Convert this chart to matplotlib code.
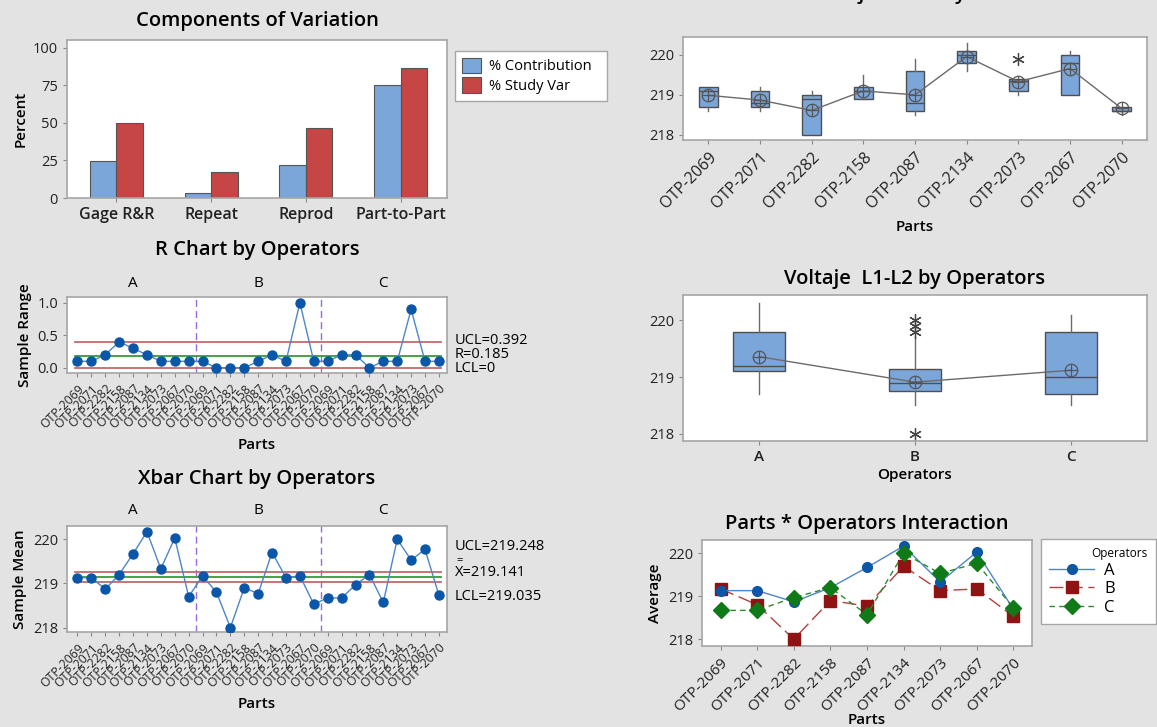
import numpy as np
import matplotlib
matplotlib.use("Agg")
import matplotlib.pyplot as plt
import matplotlib.transforms as mtransforms

plt.rcParams['font.family'] = ['Open Sans', 'DejaVu Sans']

# --- data ---
parts = ['OTP-2069', 'OTP-2071', 'OTP-2282', 'OTP-2158', 'OTP-2087',
         'OTP-2134', 'OTP-2073', 'OTP-2067', 'OTP-2070']
operators = ['A', 'B', 'C']

components = ['Gage R&R', 'Repeat', 'Reprod', 'Part-to-Part']
pct_contribution = [24.9, 3.0, 21.9, 75.1]
pct_study_var = [49.9, 17.3, 46.8, 86.7]

# sample ranges per operator (one per part)
range_a = [0.1, 0.1, 0.2, 0.4, 0.3, 0.2, 0.1, 0.1, 0.1]
range_b = [0.1, 0.0, 0.0, 0.0, 0.1, 0.2, 0.1, 1.0, 0.1]
range_c = [0.1, 0.2, 0.2, 0.0, 0.1, 0.1, 0.9, 0.1, 0.1]
r_ucl, r_bar, r_lcl = 0.392, 0.185, 0.0

# sample means per operator (one per part)
mean_a = [219.13, 219.13, 218.87, 219.20, 219.67, 220.17, 219.33, 220.03, 218.70]
mean_b = [219.17, 218.80, 218.00, 218.90, 218.77, 219.70, 219.13, 219.17, 218.53]
mean_c = [218.67, 218.67, 218.97, 219.20, 218.57, 220.00, 219.53, 219.77, 218.73]
x_ucl, x_bar, x_lcl = 219.248, 219.141, 219.035

# box summaries by part
part_q1 = [218.7, 218.7, 218.0, 218.9, 218.6, 219.8, 219.1, 219.0, 218.6]
part_med = [219.1, 218.8, 218.9, 219.1, 218.8, 220.0, 219.35, 219.8, 218.6]
part_q3 = [219.2, 219.1, 219.0, 219.2, 219.6, 220.1, 219.4, 220.0, 218.7]
part_lo = [218.6, 218.6, 218.0, 218.9, 218.5, 219.6, 219.0, 219.0, 218.5]
part_hi = [219.2, 219.2, 219.1, 219.5, 219.9, 220.3, 219.4, 220.1, 218.7]
part_mean = [218.99, 218.87, 218.61, 219.10, 219.00, 219.96, 219.33, 219.66, 218.66]
part_out = [[], [], [], [], [], [], [219.9], [], []]

# box summaries by operator
op_q1 = [219.1, 218.75, 218.7]
op_med = [219.2, 218.9, 219.0]
op_q3 = [219.8, 219.15, 219.8]
op_lo = [218.7, 218.5, 218.5]
op_hi = [220.3, 219.7, 220.1]
op_mean = [219.36, 218.91, 219.12]
op_out = [[], [218.0, 219.8, 219.9, 220.0], []]

# --- styling ---
BG = '#e3e3e3'
EDGE = '#a6a6a6'
BLUE_BAR = '#7ba6da'
RED_BAR = '#c64545'
PT_BLUE = '#0a56a8'
LN_BLUE = '#4d86c8'
CL_RED = '#c46a6a'
CL_GREEN = '#3a9a3a'
DIV = '#9a6ad8'

W, H = 1157, 727
fig = plt.figure(figsize=(W / 100, H / 100), dpi=100, facecolor=BG)


def rect(l, t, r, b):
    return [l / W, 1 - b / H, (r - l) / W, (b - t) / H]


def style(ax):
    ax.set_facecolor('white')
    for s in ax.spines.values():
        s.set_color(EDGE)
        s.set_linewidth(1.2)
    ax.tick_params(colors='#222222', labelsize=10.5, length=3, color='#888888')


TITLE = dict(fontsize=14.5, fontweight='semibold')
LABEL = dict(fontsize=11, fontweight='semibold')

# ---------- Components of Variation ----------
ax1 = fig.add_axes(rect(67, 40, 447, 198))
style(ax1)
xc = np.arange(len(components))
bw = 0.28
ax1.bar(xc - bw / 2, pct_contribution, bw, color=BLUE_BAR, edgecolor='#555555', linewidth=0.8,
        label='% Contribution')
ax1.bar(xc + bw / 2, pct_study_var, bw, color=RED_BAR, edgecolor='#555555', linewidth=0.8,
        label='% Study Var')
ax1.set_xlim(-0.52, 3.49)
ax1.set_ylim(0, 105)
ax1.set_yticks([0, 25, 50, 75, 100])
ax1.set_xticks(xc)
ax1.set_xticklabels(components, fontsize=11.5, fontweight='semibold')
ax1.set_ylabel('Percent', **LABEL)
ax1.set_title('Components of Variation', pad=10, **TITLE)
ax1.legend(loc='upper left', bbox_to_anchor=(455 / W, 1 - 102 / H, 152 / W, 51 / H),
           bbox_transform=fig.transFigure, mode='expand', borderaxespad=0,
           fancybox=False, edgecolor=EDGE, fontsize=10.5, handlelength=1.3, handleheight=1.3,
           borderpad=0.45, labelspacing=0.2, handletextpad=0.6, framealpha=1)


def control_chart(ax, series, ucl, cl, lcl, ylim, yticks):
    style(ax)
    y = np.concatenate(series)
    x = np.arange(len(y))
    ax.plot(x, y, color=LN_BLUE, lw=1.0, zorder=3)
    ax.plot(x, y, 'o', color=PT_BLUE, ms=6.5, zorder=4)
    ax.axhline(ucl, xmin=0.02, xmax=0.985, color=CL_RED, lw=1.3, zorder=2)
    ax.axhline(lcl, xmin=0.02, xmax=0.985, color=CL_RED, lw=1.3, zorder=2)
    ax.axhline(cl, xmin=0.02, xmax=0.985, color=CL_GREEN, lw=1.3, zorder=2)
    for d in (8.5, 17.5):
        ax.axvline(d, color=DIV, lw=1.0, ls=(0, (5, 3)), zorder=1)
    ax.set_xlim(-0.75, len(y) - 0.42)
    ax.set_ylim(*ylim)
    ax.set_yticks(yticks)
    ax.set_xticks(x)
    ax.set_xticklabels(parts * 3, rotation=45, ha='right', rotation_mode='anchor', fontsize=8.8)
    trans = mtransforms.blended_transform_factory(ax.transData, ax.transAxes)
    for i, op in enumerate(operators):
        ax.text(4 + 9 * i, 1.08, op, transform=trans, ha='center', va='bottom', fontsize=11)
    ax.set_xlabel('Parts', labelpad=5, **LABEL)


# ---------- R Chart ----------
ax2 = fig.add_axes(rect(67, 297, 447, 373))
control_chart(ax2, [range_a, range_b, range_c], r_ucl, r_bar, r_lcl, (-0.08, 1.09), [0.0, 0.5, 1.0])
ax2.set_yticklabels(['0.0', '0.5', '1.0'])
ax2.set_ylabel('Sample Range', **LABEL)
ax2.set_title('R Chart by Operators', pad=30, **TITLE)
fig.text(455 / W, 1 - 341 / H, 'UCL=%.3f' % r_ucl, fontsize=10.5, va='center')
fig.text(455 / W, 1 - 355 / H, 'R=%.3f' % r_bar, fontsize=10.5, va='center')
fig.text(455 / W, 1 - 368 / H, 'LCL=%g' % r_lcl, fontsize=10.5, va='center')

# ---------- Xbar Chart ----------
ax3 = fig.add_axes(rect(67, 526, 447, 632))
control_chart(ax3, [mean_a, mean_b, mean_c], x_ucl, x_bar, x_lcl, (217.9, 220.3), [218, 219, 220])
ax3.set_ylabel('Sample Mean', **LABEL)
ax3.set_title('Xbar Chart by Operators', pad=30, **TITLE)
fig.text(455 / W, 1 - 547 / H, 'UCL=%.3f' % x_ucl, fontsize=10.5, va='center')
fig.text(456 / W, 1 - 561 / H, '=', fontsize=8, va='center')
fig.text(455 / W, 1 - 573 / H, 'X=%.3f' % x_bar, fontsize=10.5, va='center')
fig.text(455 / W, 1 - 597 / H, 'LCL=%.3f' % x_lcl, fontsize=10.5, va='center')


def box_panel(ax, q1, med, q3, lo, hi, mean, out, width):
    style(ax)
    stats = []
    for i in range(len(q1)):
        stats.append(dict(q1=q1[i], med=med[i], q3=q3[i], whislo=lo[i], whishi=hi[i],
                          fliers=out[i]))
    pos = np.arange(len(q1))
    ax.bxp(stats, positions=pos, widths=width, patch_artist=True, showcaps=False,
           boxprops=dict(facecolor=BLUE_BAR, edgecolor='#4f4f4f', linewidth=1.0),
           medianprops=dict(color='#4f4f4f', linewidth=1.0),
           whiskerprops=dict(color='#6a6a6a', linewidth=1.0),
           flierprops=dict(marker=(6, 2, 0), markersize=9, markeredgecolor='#444444',
                           markeredgewidth=0.9, linestyle='none'))
    ax.plot(pos, mean, color='#6a6a6a', lw=1.0, zorder=5)
    ax.plot(pos, mean, 'o', ms=9, mfc='none', mec='#555555', mew=0.9, zorder=6)
    ax.plot(pos, mean, '+', ms=9, mec='#555555', mew=0.9, zorder=6)
    ax.set_ylim(217.87, 220.45)
    ax.set_yticks([218, 219, 220])
    ax.set_xlim(-0.49, len(q1) - 0.51)
    return pos


# ---------- By Parts ----------
ax4 = fig.add_axes(rect(683, 37, 1147, 140))
pos = box_panel(ax4, part_q1, part_med, part_q3, part_lo, part_hi, part_mean, part_out, 0.36)
ax4.set_xticks(pos)
ax4.set_xticklabels(parts, rotation=45, ha='right', rotation_mode='anchor', fontsize=11.5)
ax4.set_xlabel('Parts', labelpad=6, **LABEL)
fig.text(915 / W, 1 + 1.5 / H, 'Voltaje  L1-L2 by Parts', ha='center', va='baseline', **TITLE)

# ---------- By Operators ----------
ax5 = fig.add_axes(rect(683, 295, 1147, 441))
pos = box_panel(ax5, op_q1, op_med, op_q3, op_lo, op_hi, op_mean, op_out, 0.335)
ax5.set_xticks(pos)
ax5.set_xticklabels(operators, fontsize=11, fontweight='semibold')
ax5.set_xlabel('Operators', labelpad=3, **LABEL)
ax5.set_title('Voltaje  L1-L2 by Operators', pad=8, **TITLE)

# ---------- Interaction ----------
ax6 = fig.add_axes(rect(702, 540, 1032, 646))
style(ax6)
xp = np.arange(len(parts))
ax6.plot(xp, mean_a, color=LN_BLUE, lw=1.0, marker='o', ms=7, mfc=PT_BLUE, mec=PT_BLUE,
         label='A', zorder=4)
ax6.plot(xp, mean_b, color='#b04040', lw=1.0, ls=(0, (10, 4)), marker='s', ms=8,
         mfc='#8e1414', mec='#8e1414', label='B', zorder=3)
ax6.plot(xp, mean_c, color='#2a8a2a', lw=1.0, ls=(0, (4, 3)), marker='D', ms=8,
         mfc='#107a18', mec='#107a18', label='C', zorder=5)
ax6.set_xlim(-0.51, 8.51)
ax6.set_ylim(217.84, 220.31)
ax6.set_yticks([218, 219, 220])
ax6.set_xticks(xp)
ax6.set_xticklabels(parts, rotation=45, ha='right', rotation_mode='anchor', fontsize=11)
ax6.set_ylabel('Average', **LABEL)
ax6.set_xlabel('Parts', labelpad=-1, **LABEL)
ax6.set_title('Parts * Operators Interaction', pad=8, **TITLE)
leg = ax6.legend(title='Operators', loc='upper left',
                 bbox_to_anchor=(1041 / W, 1 - 629 / H, 115 / W, 90 / H),
                 bbox_transform=fig.transFigure, mode='expand', borderaxespad=0,
                 fancybox=False, edgecolor=EDGE, fontsize=12,
                 title_fontsize=8.5, handlelength=2.7, borderpad=0.5, labelspacing=0.15,
                 handletextpad=0.6, framealpha=1, alignment='right')

fig.savefig('out.png', dpi=100, facecolor=BG)
